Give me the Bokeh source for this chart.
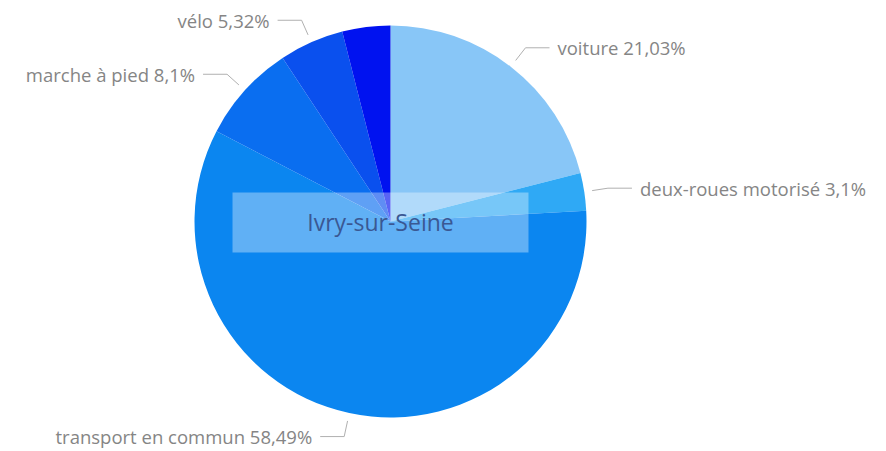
import math
from bokeh.plotting import figure
from bokeh.models import Range1d
from bokeh.core.properties import value
from bokeh.embed import file_html
from bokeh.resources import INLINE

# ---- data ----
categories = ["voiture", "deux-roues motorisé", "transport en commun",
              "marche à pied", "vélo", "autre"]
values = [21.03, 3.1, 58.49, 8.1, 5.32, 3.96]
show_label = [True, True, True, True, True, False]
colors = ["#88C6F7", "#2FA9F5", "#0B86F0", "#0A6EF0", "#0A50EE", "#0012F0"]
title_text = "Ivry-sur-Seine"

def fmt(v):
    return ("%g" % v).replace(".", ",") + "%"

W, H = 886, 451
p = figure(width=W, height=H, output_backend="svg", toolbar_location=None,
           x_range=Range1d(0, W), y_range=Range1d(0, H),
           x_axis_location=None, y_axis_location=None, min_border=0)
p.grid.visible = False
p.outline_line_color = None
p.background_fill_color = "white"

def Y(py):
    return H - py

cx, cy, R = 390, Y(221), 196
total = sum(values)
starts, ends, mids = [], [], []
cum = 0.0
for v in values:
    a0 = math.pi / 2 - 2 * math.pi * cum / total
    cum += v
    a1 = math.pi / 2 - 2 * math.pi * cum / total
    starts.append(a0); ends.append(a1); mids.append((a0 + a1) / 2)

p.wedge(x=[cx] * len(values), y=[cy] * len(values), radius=R,
        start_angle=starts, end_angle=ends, direction="clock",
        fill_color=colors, line_color=None)

# leader lines and labels
lx, ly, tx, ty, tt, ta = [], [], [], [], [], []
for cat, v, m, show in zip(categories, values, mids, show_label):
    if not show:
        continue
    r1, r2 = 204, 220
    x1, y1 = cx + r1 * math.cos(m), cy + r1 * math.sin(m)
    x2, y2 = cx + r2 * math.cos(m), cy + r2 * math.sin(m)
    side = 1 if math.cos(m) >= 0 else -1
    x3 = x2 + side * 24
    lx.append([x1, x2, x3]); ly.append([y1, y2, y2])
    tx.append(x3 + side * 8); ty.append(y2)
    tt.append(cat + " " + fmt(v)); ta.append("left" if side > 0 else "right")

p.multi_line(xs=lx, ys=ly, line_color="#B0B0B0", line_width=1)
p.text(x=tx, y=ty, text=tt, text_align=ta, text_baseline="middle",
       text_font=value("Open Sans"), text_font_size="18.5px", text_color="#858585")

# center label
p.rect(x=[380], y=[Y(222)], width=296, height=60,
       fill_color="white", fill_alpha=0.35, line_color=None)
p.text(x=[380], y=[Y(221)], text=[title_text], text_align="center",
       text_baseline="middle", text_font=value("Open Sans"),
       text_font_size="23px", text_color="#3A5893")

open("out.html", "w").write(file_html(p, INLINE))
